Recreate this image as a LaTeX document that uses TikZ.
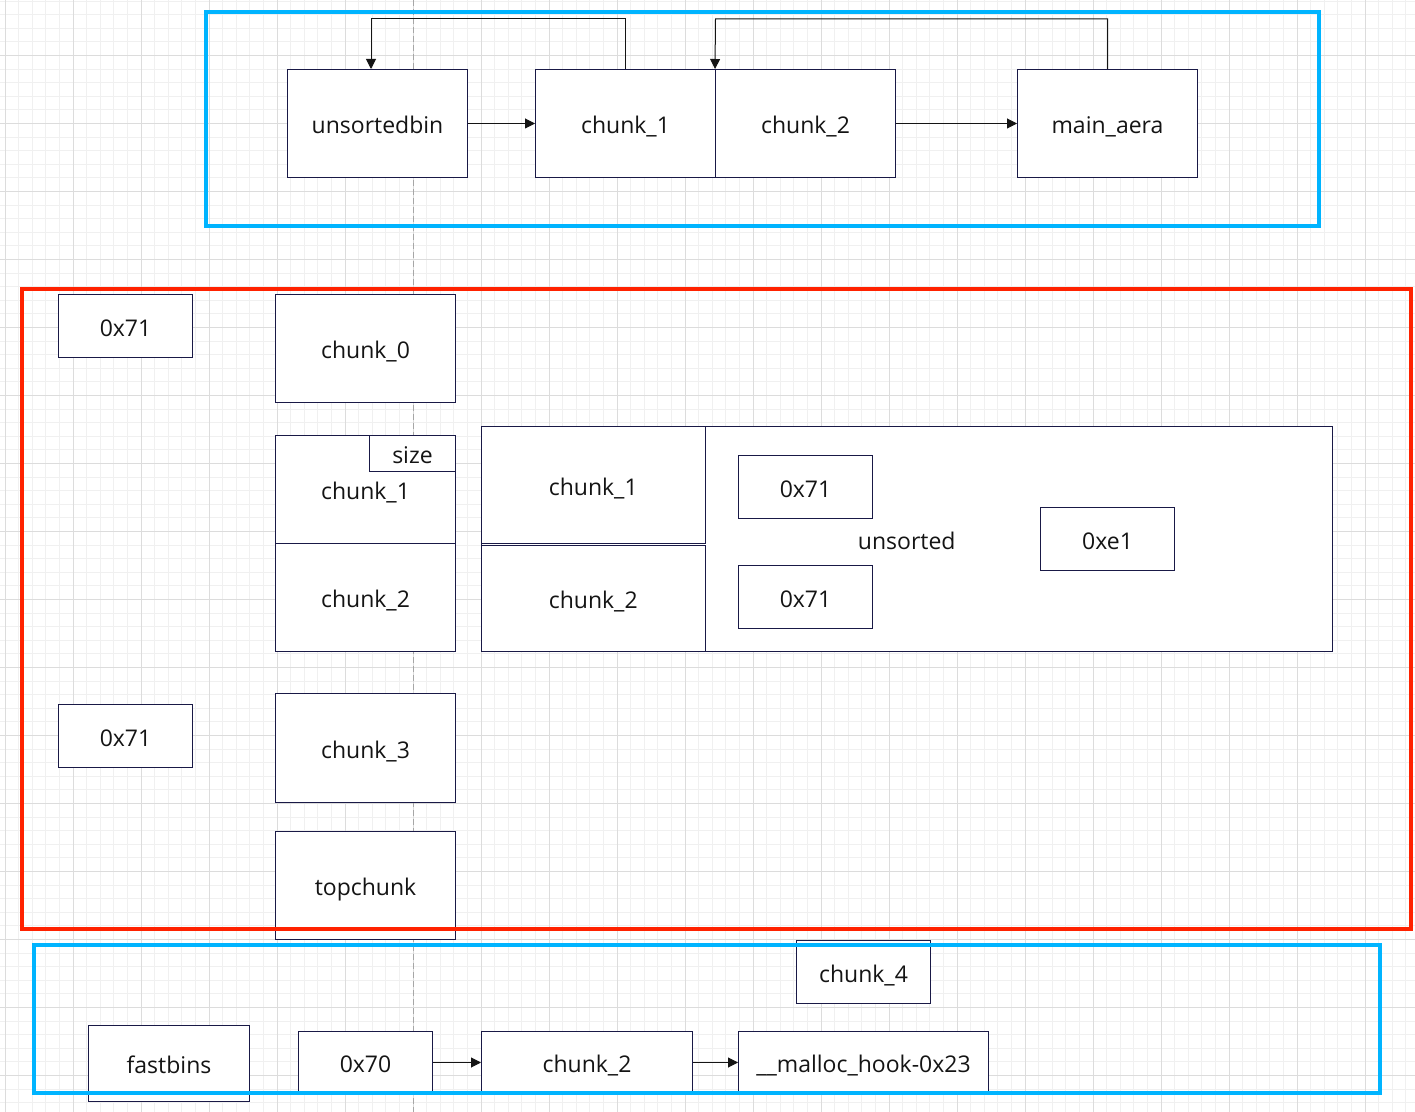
\documentclass[tikz,border=0pt]{standalone}
\usepackage{fontspec}
\setmainfont{Open Sans}
\usetikzlibrary{arrows.meta}
\definecolor{boxcol}{RGB}{25,25,70}
\definecolor{txtcol}{RGB}{20,20,20}
\definecolor{frameblue}{RGB}{0,180,255}
\definecolor{framered}{RGB}{255,34,0}
\definecolor{gridminor}{RGB}{240,240,240}
\definecolor{gridmajor}{RGB}{220,220,220}
\tikzset{
  box/.style={draw=boxcol, fill=white, line width=0.5pt, inner sep=0pt,
    text height=11.4pt, text depth=1pt,
    text=txtcol, font=\fontsize{11.5}{14}\selectfont, anchor=center},
  conn/.style={draw=txtcol, line width=0.5pt, -{Triangle[length=5pt,width=5pt]}},
  frame/.style={line width=2.2pt},
}
\begin{document}
\begin{tikzpicture}[x=0.5pt,y=-0.5pt]
\useasboundingbox (0,0) rectangle (1415,1112);
\fill[white] (0,0) rectangle (1415,1112);
% grid
\foreach \k in {0,...,103} {\draw[gridminor,line width=0.5pt] ({5+13.6*\k},0) -- ({5+13.6*\k},1112);}
\foreach \k in {0,...,81} {\draw[gridminor,line width=0.5pt] (0,{1.1+13.6*\k}) -- (1415,{1.1+13.6*\k});}
\foreach \k in {0,...,20} {\draw[gridmajor,line width=0.5pt] ({5+68*\k},0) -- ({5+68*\k},1112);}
\foreach \k in {0,...,15} {\draw[gridmajor,line width=0.5pt] (0,{55.5+68*\k}) -- (1415,{55.5+68*\k});}
\draw[gray!70,line width=0.5pt,dash pattern=on 3pt off 1.5pt] (413,0) -- (413,1112);

% top section
\node[box,minimum width=90pt,minimum height=54pt] (ub) at (377.5,123.5) {unsortedbin};
\node[box,minimum width=90pt,minimum height=54pt] (c1t) at (625.5,123.5) {chunk\_1};
\node[box,minimum width=90pt,minimum height=54pt] (c2t) at (805.5,123.5) {chunk\_2};
\node[box,minimum width=90pt,minimum height=54pt] (ma) at (1107.5,123.5) {main\_aera};
\draw[conn] (ub.east) -- (c1t.west);
\draw[conn] (c2t.east) -- (ma.west);
\draw[conn] (c1t.north) |- (371,19) -- ([xshift=-3.25pt]ub.north);
\draw[conn] (ma.north) |- (715.5,19) -- (c2t.north west);

% red section
\node[box,minimum width=67pt,minimum height=31.5pt] (h1) at (125.5,326) {0x71};
\node[box,minimum width=90pt,minimum height=54pt] (c0) at (365.5,348.5) {chunk\_0};
\node[box,minimum width=90pt,minimum height=54pt] (c1l) at (365.5,489.5) {chunk\_1};
\node[box,minimum width=43pt,minimum height=18pt] (sz) at (412.5,453.5) {size};
\node[box,minimum width=90pt,minimum height=54pt] (c2l) at (365.5,597.5) {chunk\_2};
\node[box,minimum width=67pt,minimum height=31.5pt] (h2) at (125.5,736) {0x71};
\node[box,minimum width=90pt,minimum height=54pt] (c3) at (365.5,748) {chunk\_3};
\node[box,minimum width=90pt,minimum height=54pt] (tc) at (365.5,885) {topchunk};

\node[box,minimum width=425.75pt,minimum height=112.5pt] (us) at (906.75,539) {unsorted};
\node[box,minimum width=112.25pt,minimum height=58.5pt] (c1r) at (593.25,485) {chunk\_1};
\node[box,minimum width=112.25pt,minimum height=53pt] (c2r) at (593.25,598.5) {chunk\_2};
\node[box,minimum width=67pt,minimum height=31.5pt] (u1) at (805.5,487.5) {0x71};
\node[box,minimum width=67pt,minimum height=31.5pt] (u2) at (805.5,597) {0x71};
\node[box,minimum width=67pt,minimum height=31.5pt] (e1) at (1107.5,539) {0xe1};

% bottom section
\node[box,minimum width=67pt,minimum height=31.5pt] (c4) at (863.5,972) {chunk\_4};
\node[box,minimum width=80.5pt,minimum height=38pt] (fb) at (169,1063.5) {fastbins};
\node[box,minimum width=67pt,minimum height=31pt] (h70) at (365.5,1062.5) {0x70};
\node[box,minimum width=105.5pt,minimum height=31pt] (c2b) at (587,1062.5) {chunk\_2};
\node[box,minimum width=125pt,minimum height=31pt] (mh) at (863.5,1062.5) {\_\_malloc\_hook-0x23};
\draw[conn] (h70.east) -- (c2b.west);
\draw[conn] (c2b.east) -- (mh.west);

% frames
\draw[frame,frameblue] (206,12) rectangle (1319,226);
\draw[frame,framered] (22,289) rectangle (1411,929);
\draw[frame,frameblue] (34,945) rectangle (1380,1093);
\end{tikzpicture}
\end{document}
